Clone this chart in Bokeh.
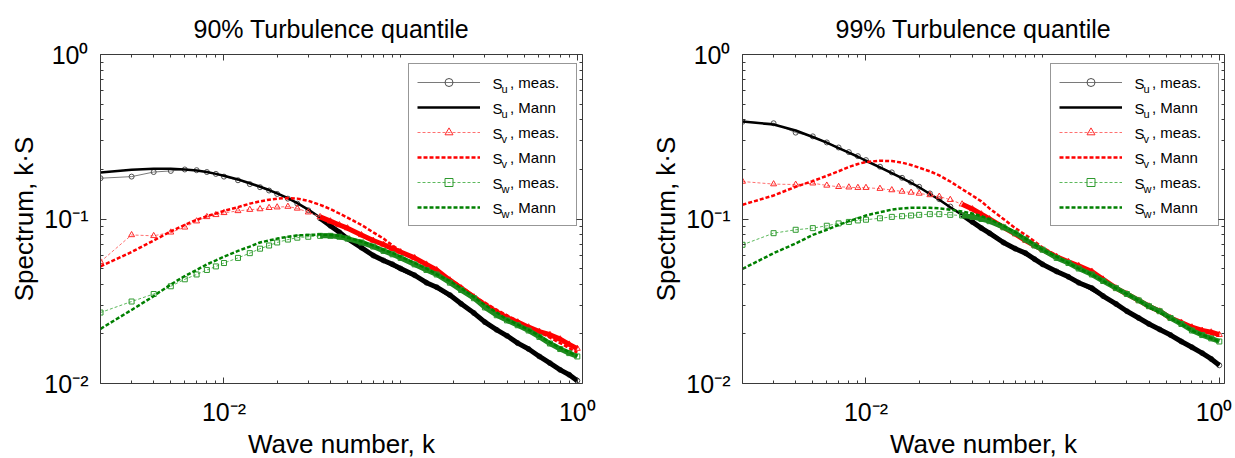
import math
from bokeh.plotting import figure
from bokeh.layouts import row
from bokeh.models import LogAxis, FixedTicker, Legend, LegendItem, ColumnDataSource
from bokeh.core.properties import value
from bokeh.embed import file_html
from bokeh.resources import INLINE

FONT = "Liberation Sans"

# ---------------- data ----------------
k = [0.002, 0.003, 0.004, 0.005, 0.006, 0.007, 0.008, 0.009, 0.010, 0.012,
     0.014, 0.016, 0.018, 0.020, 0.023, 0.026, 0.030, 0.035, 0.040, 0.045,
     0.050, 0.060, 0.070, 0.080, 0.090, 0.10, 0.12, 0.14, 0.16, 0.19,
     0.22, 0.26, 0.30, 0.35, 0.40, 0.46, 0.53, 0.61, 0.70, 0.80, 0.90, 1.0]

# 90 % quantile
su_meas_90 = [0.177, 0.181, 0.193, 0.196, 0.200, 0.198, 0.193, 0.188, 0.181, 0.172,
              0.163, 0.156, 0.149, 0.142, 0.133, 0.124, 0.113, 0.101, 0.091, 0.083,
              0.076, 0.067, 0.060, 0.056, 0.053, 0.050, 0.0455, 0.041, 0.0385, 0.0345,
              0.0305, 0.0268, 0.0236, 0.0212, 0.0195, 0.0176, 0.0162, 0.0146, 0.0133, 0.0121, 0.0113, 0.0104]
su_mann_90 = [0.192, 0.199, 0.202, 0.202, 0.200, 0.197, 0.193, 0.188, 0.183, 0.174,
              0.165, 0.157, 0.150, 0.143, 0.134, 0.125, 0.114, 0.102, 0.092, 0.084,
              0.077, 0.067, 0.060, 0.056, 0.052, 0.049, 0.045, 0.041, 0.038, 0.034,
              0.0305, 0.027, 0.024, 0.0213, 0.0195, 0.0178, 0.0162, 0.0148, 0.0134, 0.0122, 0.0113, 0.0105]
sv_meas_90 = [0.055, 0.080, 0.079, 0.083, 0.089, 0.097, 0.103, 0.106, 0.109, 0.112,
              0.114, 0.115, 0.117, 0.118, 0.119, 0.116, 0.110, 0.103, 0.097, 0.092,
              0.088, 0.080, 0.074, 0.070, 0.066, 0.063, 0.058, 0.053, 0.049, 0.0425,
              0.038, 0.0335, 0.030, 0.0272, 0.0252, 0.0236, 0.022, 0.0207, 0.0198, 0.0186, 0.0173, 0.0163]
sv_mann_90 = [0.0515, 0.063, 0.074, 0.084, 0.092, 0.099, 0.104, 0.108, 0.112, 0.118,
              0.124, 0.128, 0.131, 0.133, 0.134, 0.133, 0.129, 0.122, 0.115, 0.108,
              0.102, 0.092, 0.083, 0.076, 0.069, 0.064, 0.057, 0.052, 0.048, 0.043,
              0.039, 0.034, 0.031, 0.028, 0.026, 0.024, 0.022, 0.0205, 0.019, 0.0176, 0.0164, 0.0154]
sw_meas_90 = [0.027, 0.0315, 0.035, 0.039, 0.043, 0.046, 0.049, 0.0515, 0.054, 0.058,
              0.062, 0.066, 0.069, 0.072, 0.075, 0.077, 0.078, 0.079, 0.079, 0.078,
              0.076, 0.072, 0.068, 0.064, 0.061, 0.058, 0.053, 0.049, 0.046, 0.041,
              0.037, 0.033, 0.029, 0.026, 0.0242, 0.0226, 0.021, 0.0192, 0.0175, 0.0162, 0.0153, 0.0146]
sw_mann_90 = [0.0215, 0.028, 0.034, 0.040, 0.045, 0.049, 0.053, 0.056, 0.059, 0.064,
              0.068, 0.072, 0.074, 0.076, 0.078, 0.0795, 0.080, 0.0805, 0.080, 0.079,
              0.077, 0.073, 0.069, 0.065, 0.062, 0.059, 0.054, 0.050, 0.046, 0.042,
              0.038, 0.0335, 0.030, 0.027, 0.0245, 0.0228, 0.0212, 0.0195, 0.0178, 0.0165, 0.0155, 0.0147]

# 99 % quantile
su_meas_99 = [0.390, 0.382, 0.335, 0.318, 0.292, 0.272, 0.255, 0.241, 0.228, 0.208,
              0.192, 0.178, 0.167, 0.157, 0.143, 0.132, 0.119, 0.106, 0.096, 0.088,
              0.082, 0.072, 0.066, 0.062, 0.057, 0.053, 0.048, 0.0445, 0.041, 0.038,
              0.034, 0.0305, 0.0275, 0.025, 0.023, 0.0213, 0.0197, 0.018, 0.0166, 0.0153, 0.0141, 0.0129]
su_mann_99 = [0.392, 0.375, 0.345, 0.315, 0.291, 0.270, 0.253, 0.239, 0.226, 0.206,
              0.190, 0.177, 0.166, 0.156, 0.142, 0.131, 0.118, 0.106, 0.096, 0.089,
              0.083, 0.073, 0.066, 0.061, 0.057, 0.053, 0.048, 0.044, 0.041, 0.037,
              0.034, 0.030, 0.0275, 0.025, 0.023, 0.0212, 0.0196, 0.018, 0.0165, 0.0152, 0.014, 0.0129]
sv_meas_99 = [0.169, 0.163, 0.162, 0.165, 0.160, 0.157, 0.156, 0.155, 0.155, 0.153,
              0.150, 0.147, 0.145, 0.143, 0.140, 0.137, 0.131, 0.123, 0.115, 0.107,
              0.100, 0.089, 0.081, 0.074, 0.069, 0.065, 0.059, 0.055, 0.052, 0.048,
              0.043, 0.038, 0.035, 0.032, 0.0295, 0.0275, 0.025, 0.0235, 0.022, 0.021, 0.0205, 0.0198]
sv_mann_99 = [0.122, 0.139, 0.157, 0.170, 0.183, 0.195, 0.207, 0.216, 0.222, 0.226,
              0.225, 0.220, 0.213, 0.205, 0.195, 0.184, 0.169, 0.152, 0.139, 0.128,
              0.116, 0.100, 0.088, 0.080, 0.073, 0.067, 0.060, 0.055, 0.051, 0.047,
              0.043, 0.038, 0.035, 0.032, 0.029, 0.027, 0.025, 0.0235, 0.022, 0.021, 0.020, 0.0195]
sw_meas_99 = [0.0697, 0.082, 0.086, 0.088, 0.091, 0.094, 0.096, 0.098, 0.099, 0.101,
              0.103, 0.104, 0.105, 0.106, 0.107, 0.107, 0.106, 0.105, 0.103, 0.100,
              0.097, 0.089, 0.082, 0.075, 0.069, 0.065, 0.058, 0.054, 0.050, 0.046,
              0.042, 0.038, 0.035, 0.032, 0.0295, 0.0275, 0.025, 0.023, 0.021, 0.0197, 0.0188, 0.018]
sw_mann_99 = [0.0497, 0.062, 0.071, 0.080, 0.086, 0.092, 0.097, 0.101, 0.105, 0.110,
              0.114, 0.116, 0.117, 0.117, 0.117, 0.116, 0.114, 0.111, 0.108, 0.104,
              0.100, 0.091, 0.083, 0.076, 0.070, 0.065, 0.059, 0.054, 0.050, 0.046,
              0.042, 0.038, 0.035, 0.032, 0.029, 0.027, 0.025, 0.023, 0.021, 0.0198, 0.0188, 0.018]

titles = ["90% Turbulence quantile", "99% Turbulence quantile"]
x_label = "Wave number, k"
y_label = "Spectrum, k\u00b7S"
x_ticks = [0.01, 1.0]
x_tick_labels = ["10\u207b\u00b2", "10\u2070"]
y_ticks = [0.01, 0.1, 1.0]
y_tick_labels = ["10\u207b\u00b2", "10\u207b\u00b9", "10\u2070"]
legend_subs = ["u", "u", "v", "v", "w", "w"]
legend_texts = [", meas.", ", Mann", ", meas.", ", Mann", ", meas.", ", Mann"]

x_minor = [m * 10.0 ** e for e in (-3, -2, -1) for m in range(2, 11) if m * 10.0 ** e < 1.0]
y_minor = [m * 10.0 ** e for e in (-2, -1) for m in range(2, 10)]

X_RANGE = (0.002, 1.07)
Y_RANGE = (0.01, 1.0)
FW, FH = 482, 329
BAND_START = 0.035
AX_COLOR = "#3a3a3a"


def px_to_x(px):
    a, b = math.log10(X_RANGE[0]), math.log10(X_RANGE[1])
    return 10 ** (a + px / FW * (b - a))


def py_to_y(py):
    a, b = math.log10(Y_RANGE[0]), math.log10(Y_RANGE[1])
    return 10 ** (a + py / FH * (b - a))


def style_axis(ax, ticks, minor, labels, show):
    ax.ticker = FixedTicker(ticks=ticks, minor_ticks=minor)
    ax.axis_line_color = AX_COLOR
    ax.major_tick_line_color = AX_COLOR
    ax.minor_tick_line_color = AX_COLOR
    ax.major_tick_in = 6
    ax.major_tick_out = 0
    ax.minor_tick_in = 3
    ax.minor_tick_out = 0
    ax.major_label_text_font = FONT
    ax.major_label_text_color = "black"
    if show:
        ax.major_label_overrides = {t: s for t, s in zip(ticks, labels)}
        ax.major_label_text_font_size = "25px"
        ax.axis_label_text_font = FONT
        ax.axis_label_text_font_size = "26px"
        ax.axis_label_text_font_style = "normal"
        ax.axis_label_text_color = "black"
    else:
        ax.major_label_text_font_size = "0px"
        ax.major_label_standoff = 0
        ax.major_label_overrides = {t: "" for t in ticks}


def build(title, su_m, su_M, sv_m, sv_M, sw_m, sw_M, border_right):
    p = figure(x_axis_type="log", y_axis_type="log",
               x_range=X_RANGE, y_range=Y_RANGE,
               frame_width=FW, frame_height=FH,
               min_border_left=100, min_border_right=border_right,
               min_border_top=53, min_border_bottom=72,
               output_backend="svg", toolbar_location=None, title=title)
    p.title.text_font = FONT
    p.title.text_font_size = "25px"
    p.title.text_font_style = "normal"
    p.title.text_color = "black"
    p.title.align = "left"
    p.title.offset = 93
    p.title.standoff = 24
    p.xgrid.visible = False
    p.ygrid.visible = False
    p.outline_line_color = None
    p.background_fill_color = "white"
    p.border_fill_color = "white"

    style_axis(p.xaxis[0], x_ticks, x_minor, x_tick_labels, True)
    style_axis(p.yaxis[0], y_ticks, y_minor, y_tick_labels, True)
    p.xaxis[0].axis_label = x_label
    p.yaxis[0].axis_label = y_label
    p.xaxis[0].major_label_standoff = 14
    p.yaxis[0].major_label_standoff = 12
    p.xaxis[0].axis_label_standoff = 0
    p.yaxis[0].axis_label_standoff = 2

    top = LogAxis()
    style_axis(top, x_ticks, x_minor, x_tick_labels, False)
    p.add_layout(top, "above")
    right = LogAxis()
    style_axis(right, y_ticks, y_minor, y_tick_labels, False)
    p.add_layout(right, "right")

    src = ColumnDataSource(dict(k=k, su_m=su_m, su_M=su_M, sv_m=sv_m, sv_M=sv_M, sw_m=sw_m, sw_M=sw_M))
    idx = [i for i, kk in enumerate(k) if kk >= BAND_START]
    band = ColumnDataSource(dict(k=[k[i] for i in idx],
                                 su_m=[su_m[i] for i in idx],
                                 sv_m=[sv_m[i] for i in idx],
                                 sw_m=[sw_m[i] for i in idx]))

    specs = [
        ("su_m", "su_M", "#7a7a7a", "#505050", "circle", 5, "solid", "black", "solid", "black"),
        ("sv_m", "sv_M", "#ff7070", "#ff2a2a", "triangle", 6, "3 2", "#ff0000", "4 2", "#ff0000"),
        ("sw_m", "sw_M", "#5cb85c", "#2e9a2e", "square", 5, "3 2", "#008000", "4 2", "#1f8a1f"),
    ]
    items = []
    for mcol, Mcol, lc, mc, mk, ms, mdash, Mc, Mdash, bc in specs:
        ml = p.line("k", mcol, source=src, line_color=lc, line_width=1, line_dash=mdash)
        sc = p.scatter("k", mcol, source=src, marker=mk, size=ms, fill_color=None,
                       line_color=mc, line_width=1)
        p.line("k", mcol, source=band, line_color=bc, line_width=5, line_join="round")
        Ml = p.line("k", Mcol, source=src, line_color=Mc, line_width=2.5, line_dash=Mdash)
        items.append((ml, sc, Ml))

    # "S" and subscripts of the legend entries (positioned in frame pixels)
    y0 = 157 + 161 - 8 - 10
    rows_y = [y0 - 25 * i for i in range(len(legend_subs))]
    s_src = ColumnDataSource(dict(x=[px_to_x(392)] * len(rows_y),
                                  y=[py_to_y(v) for v in rows_y],
                                  t=["S"] * len(rows_y)))
    sub_src = ColumnDataSource(dict(x=[px_to_x(401)] * len(rows_y),
                                    y=[py_to_y(v - 5) for v in rows_y],
                                    t=legend_subs))
    p.text("x", "y", text="t", source=s_src, text_font=value(FONT),
           text_font_size=value("15px"), text_baseline="middle", text_color="black")
    p.text("x", "y", text="t", source=sub_src, text_font=value(FONT),
           text_font_size=value("11px"), text_baseline="middle", text_color="black")

    leg_items = []
    for j, (ml, sc, Ml) in enumerate(items):
        leg_items.append(LegendItem(label=legend_texts[2 * j], renderers=[ml, sc]))
        leg_items.append(LegendItem(label=legend_texts[2 * j + 1], renderers=[Ml]))
    legend = Legend(items=leg_items, location=(308, 157), padding=8, spacing=5,
                    glyph_width=63, glyph_height=20, label_height=20,
                    label_standoff=30, label_width=58, margin=0,
                    label_text_font=FONT, label_text_font_size="15px",
                    label_text_color="black",
                    border_line_color="#303030", border_line_width=1,
                    background_fill_alpha=0.0)
    p.add_layout(legend)
    return p


p1 = build(titles[0], su_meas_90, su_mann_90, sv_meas_90, sv_mann_90, sw_meas_90, sw_mann_90, 60)
p2 = build(titles[1], su_meas_99, su_mann_99, sv_meas_99, sv_mann_99, sw_meas_99, sw_mann_99, 8)
p = row(p1, p2)

open("out.html", "w").write(file_html(p, INLINE))
